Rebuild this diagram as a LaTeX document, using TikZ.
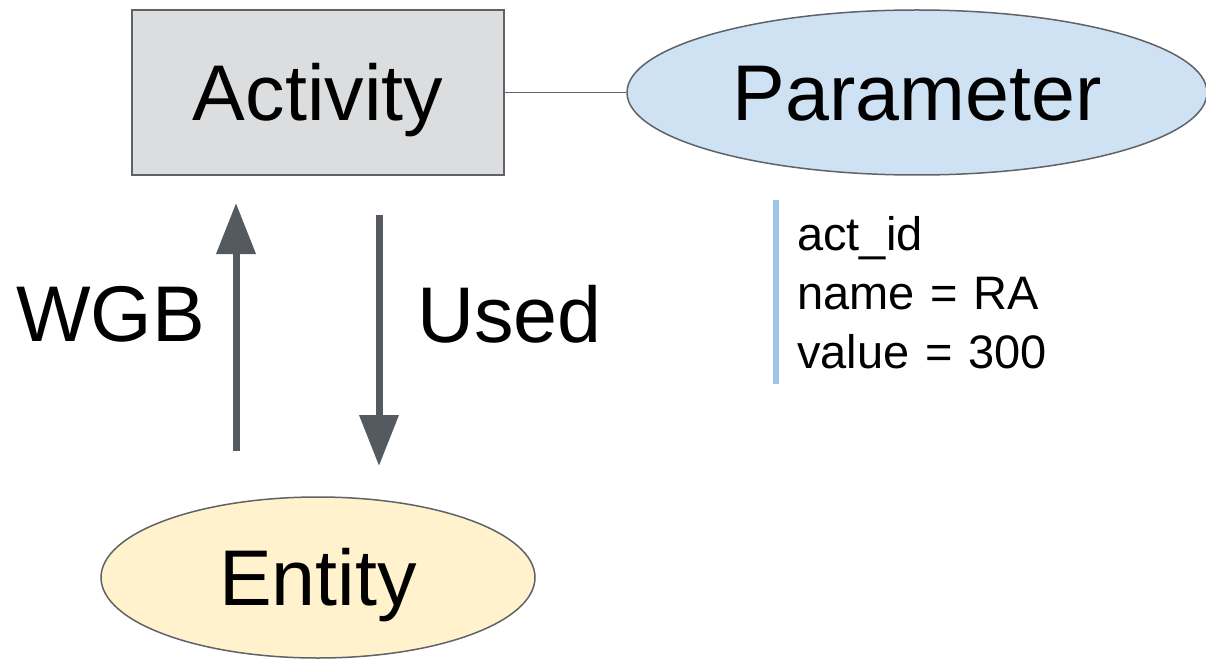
\documentclass[tikz,border=0pt]{standalone}
\usepackage{fontspec}
\setmainfont{Liberation Sans}
\usetikzlibrary{shapes.geometric,arrows.meta}

\definecolor{boxgray}{HTML}{DCDDDF}
\definecolor{edgegray}{HTML}{5F6368}
\definecolor{parblue}{HTML}{CFE2F3}
\definecolor{entyellow}{HTML}{FFF2CC}
\definecolor{arrowgray}{HTML}{555A60}
\definecolor{notebar}{HTML}{9FC5E8}

\tikzset{
  bigtext/.style={font=\fontsize{79}{90}\selectfont, text height=56.6pt, text depth=0pt},
  actbox/.style={rectangle, draw=edgegray, line width=1.5pt, fill=boxgray,
                 minimum width=372pt, minimum height=165pt, inner sep=0pt, bigtext},
  ovalbox/.style={ellipse, draw=edgegray, line width=1.5pt, inner sep=0pt, bigtext},
  label/.style={font=\fontsize{79}{90}\selectfont, inner sep=0pt, anchor=base west},
  flow/.style={draw=arrowgray, line width=7pt,
               -{Triangle[length=51pt, width=38pt]}},
  link/.style={draw=edgegray, line width=1.6pt},
  note/.style={font=\fontsize{47}{58.5}\selectfont, inner sep=0pt, anchor=base west,
               text width=300pt, align=left}
}

\begin{document}
\begin{tikzpicture}[x=1pt, y=-1pt]
  \useasboundingbox (0,0) rectangle (1206,660);

  % main elements
  \node[actbox] (activity) at (318,92.5) {Activity};
  \node[ovalbox, fill=parblue, minimum width=580pt, minimum height=165pt]
        (parameter) at (917,92.5) {Parameter};
  \node[ovalbox, fill=entyellow, minimum width=434pt, minimum height=161pt]
        (entity) at (318,577.5) {Entity};

  % activity -- parameter association
  \draw[link] (activity.east) -- (parameter.west);

  % relations between activity and entity
  \coordinate (wgbFrom) at (236,451);
  \coordinate (wgbTo)   at (236,203);
  \coordinate (usedFrom) at (379,215);
  \coordinate (usedTo)   at (379,466);
  \draw[flow] (wgbFrom) -- (wgbTo);
  \draw[flow] (usedFrom) -- (usedTo);

  \node[label] (wgb)  at (16,341)  {WGB};
  \node[label] (used) at (417,342) {Used};

  % parameter attributes
  \coordinate (barTop) at (776,200);
  \coordinate (barBot) at (776,384);
  \draw[notebar, line width=6pt] (barTop) -- (barBot);
  \node[note] (attrs) at (797,251) {act\_id\\name = RA\\value = 300};
\end{tikzpicture}
\end{document}
